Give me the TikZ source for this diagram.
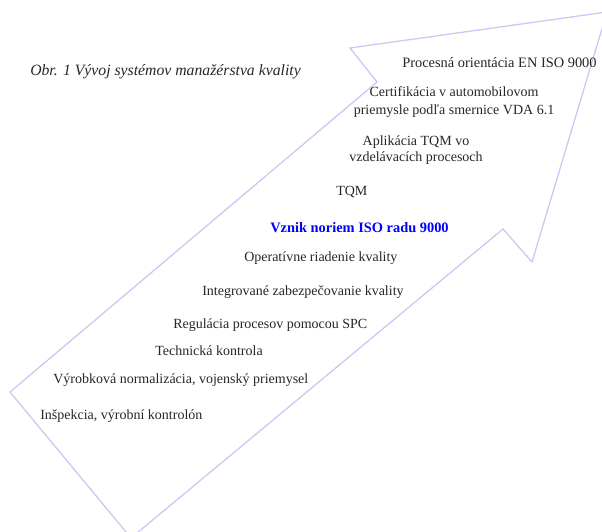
\documentclass[tikz,border=0pt]{standalone}
\usepackage{fontspec}
\setmainfont{Liberation Serif}
\usepackage{tikz}
\usetikzlibrary{positioning}
\tikzset{
  outline/.style={draw=blue!22, line width=0.9pt, line join=miter},
  glow/.style={draw=yellow!45, line width=0.9pt, dashed, dash pattern=on 6pt off 3pt},
}

\begin{document}
\begin{tikzpicture}[x=0.75pt, y=-0.75pt]
  % Styles
  \tikzset{
    stage/.style={anchor=west, inner sep=0pt, font=\fontsize{10.5}{12.5}\selectfont, text=black!85},
    twoline/.style={inner sep=0pt, align=center, font=\fontsize{10.5}{12.5}\selectfont, text=black!85},
    caption/.style={anchor=west, inner sep=0pt, font=\fontsize{11.8}{14}\selectfont\itshape, text=black!85}
  }
  \clip (0,0) rectangle (602,531);

  % ----- Arrow outline -----
  \coordinate (tail)   at (131,538);
  \coordinate (left)   at (10,392);
  \coordinate (notchL) at (377,82);
  \coordinate (barbL)  at (350,48);
  \coordinate (tip)    at (607,12);
  \coordinate (barbR)  at (532,262);
  \coordinate (notchR) at (503,229);

  \draw[glow, shift={(2,2)}] (tail) -- (left) -- (notchL) -- (barbL) -- (tip) -- (barbR) -- (notchR) -- cycle;
  \draw[outline] (tail) -- (left) -- (notchL) -- (barbL) -- (tip) -- (barbR) -- (notchR) -- cycle;

  % ----- Caption -----
  \node[caption] (title) at (30,72) {Obr. 1 Vývoj systémov manažérstva kvality};

  % ----- Stages, top to bottom -----
  \node[stage, font=\fontsize{10.8}{13}\selectfont] (proces) at (402,63) {Procesná orientácia EN ISO 9000};
  \node[twoline] (certif) at (454,102) {Certifikácia v automobilovom\\[1pt]priemysle podľa smernice VDA 6.1};
  \node[twoline] (aplik) at (416,150) {Aplikácia TQM vo\\vzdelávacích procesoch};
  \node[stage] (tqm) at (336,192) {TQM};
  \node[stage, text=blue, font=\fontsize{10.8}{13}\selectfont\bfseries] (iso) at (270,228) {Vznik noriem ISO radu 9000};
  \node[stage] (operat) at (244,258) {Operatívne riadenie kvality};
  \node[stage] (integr) at (202,292) {Integrované zabezpečovanie kvality};
  \node[stage] (spc) at (173,325) {Regulácia procesov pomocou SPC};
  \node[stage] (technic) at (155,351) {Technická kontrola};
  \node[stage] (vyrob) at (53,380) {Výrobková normalizácia, vojenský priemysel};
  \node[stage] (insp) at (40,416) {Inšpekcia, výrobní kontrolón};

\end{tikzpicture}
\end{document}
